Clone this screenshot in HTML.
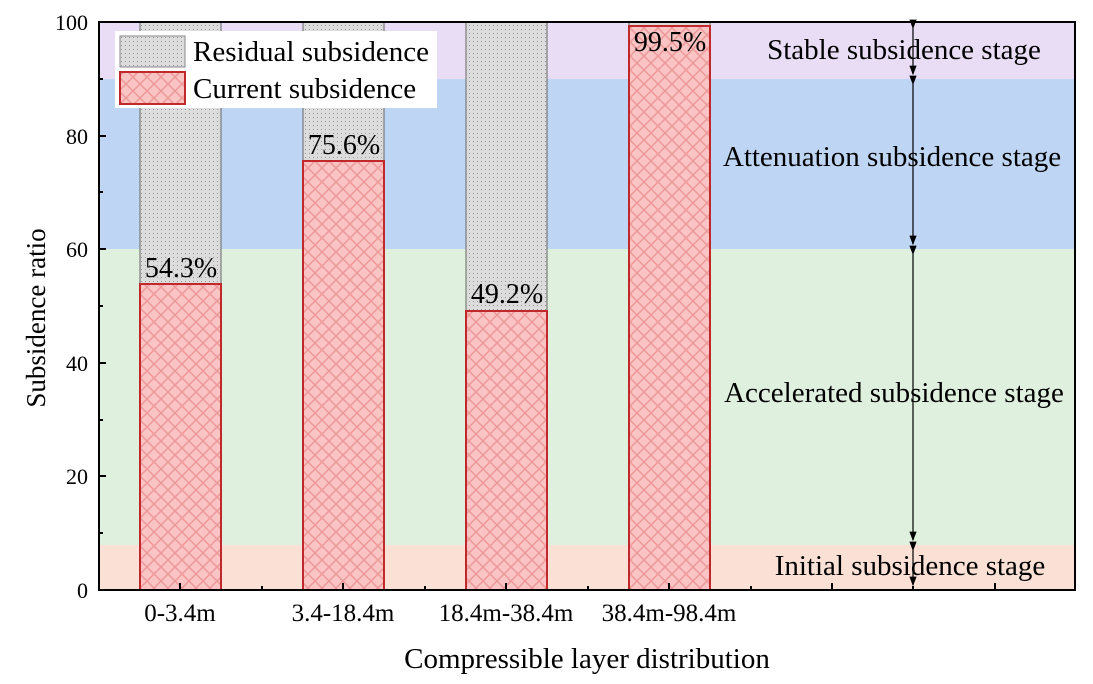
<!DOCTYPE html>
<html><head><meta charset="utf-8"><style>body{margin:0;background:#fff}</style></head><body>
<svg width="1093" height="679" xmlns="http://www.w3.org/2000/svg" font-family="Liberation Serif, serif">
<defs>
<pattern id="hatch" width="14" height="14" patternUnits="userSpaceOnUse">
<rect width="14" height="14" fill="#fac4c4"/>
<path d="M0,0L14,14M14,0L0,14" stroke="#ec9898" stroke-width="1.5"/>
</pattern>
<pattern id="dots" width="4" height="4" patternUnits="userSpaceOnUse">
<rect width="4" height="4" fill="#dcdcdc"/>
<rect x="1" y="1" width="1" height="1" fill="#9a9a9a"/>
</pattern>
<marker id="ah" markerWidth="8" markerHeight="10" refX="7" refY="4" orient="auto"><path d="M0,1L8,4L0,7z" fill="#000"/></marker>
</defs>
<rect x="99" y="22" width="976" height="57" fill="#e9ddf5"/>
<rect x="99" y="79" width="976" height="170" fill="#bed5f3"/>
<rect x="99" y="249" width="976" height="296" fill="#dff0df"/>
<rect x="99" y="545" width="976" height="45" fill="#fbe1d5"/>
<g stroke="#666" stroke-width="1">
<rect x="140" y="22" width="81" height="262" fill="url(#dots)"/>
<rect x="303" y="22" width="81" height="139" fill="url(#dots)"/>
<rect x="466" y="22" width="81" height="289" fill="url(#dots)"/>
<rect x="629" y="22" width="81" height="4" fill="url(#dots)"/>
</g>
<g stroke="#c0282a" stroke-width="2" fill="url(#hatch)">
<rect x="140" y="284" width="81" height="306"/>
<rect x="303" y="161" width="81" height="429"/>
<rect x="466" y="311" width="81" height="279"/>
<rect x="629" y="26" width="81" height="564"/>
</g>
<g font-size="28" text-anchor="middle">
<text x="181" y="277">54.3%</text>
<text x="344" y="154">75.6%</text>
<text x="507" y="303">49.2%</text>
<text x="670" y="51">99.5%</text>
</g>
<rect x="115" y="31" width="322" height="77" fill="#fff"/>
<rect x="120" y="36" width="65" height="31" fill="url(#dots)" stroke="#888"/>
<rect x="120" y="72" width="65" height="32" fill="url(#hatch)" stroke="#c0282a" stroke-width="2"/>
<g font-size="29"><text x="193" y="61">Residual subsidence</text><text x="193" y="98">Current subsidence</text></g>
<g stroke="#000" stroke-width="1.2" marker-start="url(#ah)" marker-end="url(#ah)">
<line x1="913" y1="28" x2="913" y2="74"/>
<line x1="913" y1="84" x2="913" y2="244"/>
<line x1="913" y1="254" x2="913" y2="540"/>
<line x1="913" y1="550" x2="913" y2="585"/>
</g>
<g font-size="29" text-anchor="middle">
<text x="904" y="59">Stable subsidence stage</text>
<text x="892" y="166">Attenuation subsidence stage</text>
<text x="894" y="402">Accelerated subsidence stage</text>
<text x="910" y="575">Initial subsidence stage</text>
</g>
<rect x="99" y="22" width="976" height="568" fill="none" stroke="#000" stroke-width="2"/>
<g stroke="#000" stroke-width="2">
<path d="M99,590h7M99,476h7M99,363h7M99,249h7M99,136h7M99,22h7"/>
<path d="M99,533h4M99,420h4M99,306h4M99,192h4M99,79h4"/>
<path d="M180,590v-7M343,590v-7M506,590v-7M669,590v-7M832,590v-7M995,590v-7"/>
<path d="M262,590v-4M425,590v-4M588,590v-4M751,590v-4M913,590v-4"/>
</g>
<g font-size="22" text-anchor="end">
<text x="88" y="598">0</text><text x="88" y="484">20</text><text x="88" y="371">40</text>
<text x="88" y="257">60</text><text x="88" y="144">80</text><text x="88" y="30">100</text>
</g>
<g font-size="25" text-anchor="middle">
<text x="180" y="621">0-3.4m</text><text x="343" y="621">3.4-18.4m</text>
<text x="506" y="621">18.4m-38.4m</text><text x="669" y="621">38.4m-98.4m</text>
</g>
<text x="587" y="668" font-size="29" text-anchor="middle">Compressible layer distribution</text>
<text transform="translate(45,318) rotate(-90)" font-size="27" text-anchor="middle">Subsidence ratio</text>
</svg>
</body></html>
